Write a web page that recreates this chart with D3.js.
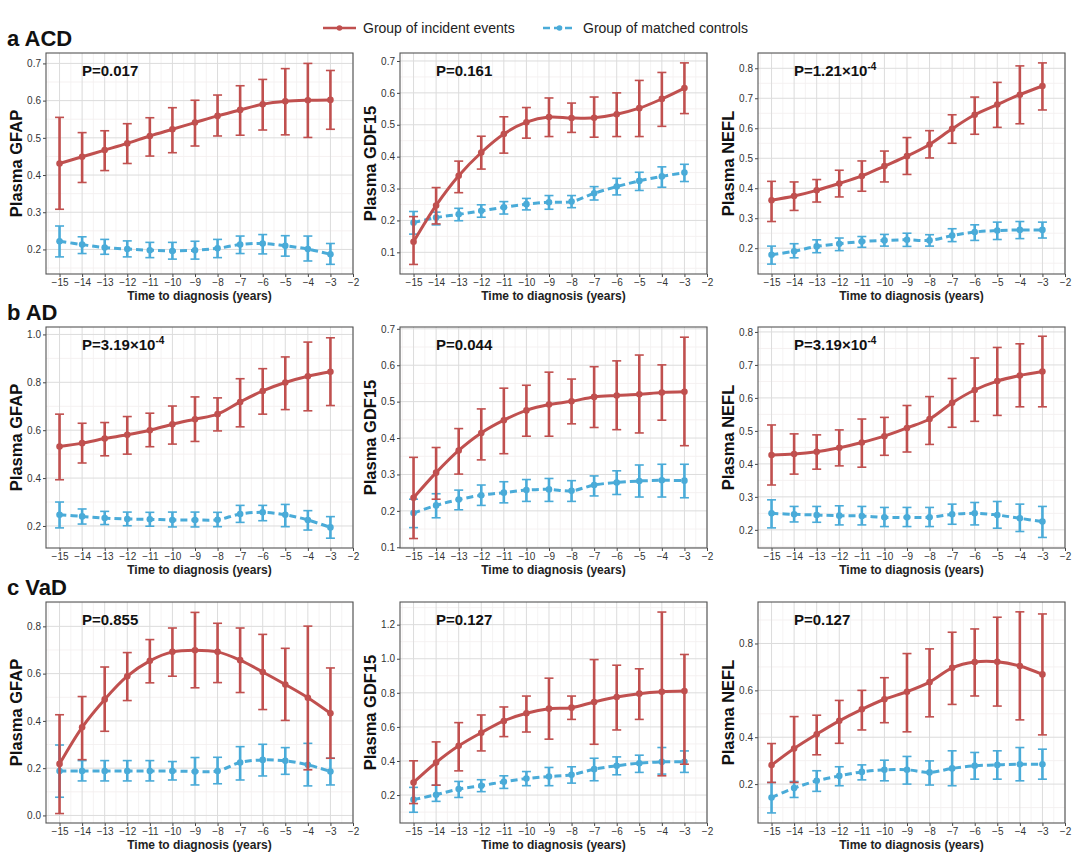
<!DOCTYPE html>
<html>
<head>
<meta charset="utf-8">
<script src="https://cdn.jsdelivr.net/npm/d3@7"></script>
<style>
  body { margin: 0; background: #fff; }
  svg { font-family: Arial, "Liberation Sans", sans-serif; }
</style>
</head>
<body>
<svg id="chart" width="1080" height="858"></svg>
<script>
const years = [-15, -14, -13, -12, -11, -10, -9, -8, -7, -6, -5, -4, -3]

// [mean, lower, upper] for each year
const acdGfapCase = [[0.431,0.308,0.555],[0.449,0.380,0.514],[0.467,0.412,0.519],[0.485,0.431,0.538],[0.505,0.451,0.554],[0.523,0.460,0.581],[0.541,0.478,0.601],[0.559,0.505,0.615],[0.575,0.507,0.640],[0.590,0.521,0.657],[0.598,0.508,0.686],[0.601,0.501,0.700],[0.602,0.523,0.681]]
const acdGfapCtrl = [[0.222,0.180,0.263],[0.213,0.189,0.234],[0.205,0.187,0.227],[0.201,0.180,0.223],[0.198,0.178,0.219],[0.196,0.174,0.219],[0.198,0.174,0.222],[0.203,0.178,0.227],[0.213,0.189,0.236],[0.216,0.188,0.240],[0.210,0.182,0.237],[0.201,0.169,0.236],[0.187,0.160,0.216]]
const acdGdfCase = [[0.133,0.062,0.212],[0.247,0.189,0.303],[0.340,0.287,0.386],[0.413,0.361,0.464],[0.471,0.411,0.525],[0.508,0.458,0.554],[0.524,0.463,0.584],[0.521,0.476,0.568],[0.522,0.461,0.587],[0.533,0.463,0.600],[0.552,0.463,0.639],[0.581,0.495,0.664],[0.615,0.535,0.694]]
const acdGdfCtrl = [[0.193,0.157,0.228],[0.209,0.186,0.226],[0.219,0.199,0.238],[0.230,0.210,0.249],[0.241,0.220,0.259],[0.251,0.233,0.269],[0.257,0.235,0.278],[0.259,0.240,0.278],[0.285,0.264,0.306],[0.306,0.280,0.332],[0.324,0.294,0.351],[0.338,0.304,0.368],[0.350,0.322,0.376]]
const acdNeflCase = [[0.360,0.289,0.423],[0.374,0.326,0.421],[0.393,0.354,0.429],[0.416,0.371,0.460],[0.441,0.390,0.491],[0.474,0.421,0.524],[0.507,0.446,0.569],[0.546,0.501,0.592],[0.598,0.550,0.645],[0.645,0.580,0.704],[0.679,0.603,0.753],[0.712,0.615,0.808],[0.741,0.661,0.818]]
const acdNeflCtrl = [[0.178,0.147,0.207],[0.190,0.168,0.215],[0.206,0.185,0.228],[0.215,0.192,0.234],[0.222,0.203,0.239],[0.226,0.207,0.246],[0.228,0.206,0.250],[0.226,0.207,0.245],[0.242,0.222,0.265],[0.254,0.226,0.278],[0.259,0.229,0.287],[0.261,0.232,0.289],[0.261,0.234,0.287]]

const adGfapCase = [[0.532,0.393,0.667],[0.546,0.463,0.629],[0.565,0.493,0.632],[0.581,0.500,0.657],[0.600,0.531,0.671],[0.625,0.542,0.701],[0.646,0.553,0.739],[0.667,0.597,0.735],[0.718,0.614,0.815],[0.764,0.667,0.857],[0.799,0.686,0.906],[0.825,0.681,0.968],[0.844,0.703,0.986]]
const adGfapCtrl = [[0.247,0.192,0.300],[0.240,0.208,0.271],[0.233,0.206,0.261],[0.229,0.201,0.258],[0.228,0.199,0.257],[0.225,0.196,0.258],[0.225,0.196,0.258],[0.226,0.197,0.257],[0.250,0.215,0.286],[0.257,0.222,0.286],[0.247,0.197,0.290],[0.225,0.183,0.264],[0.194,0.149,0.239]]
const adGdfCase = [[0.236,0.124,0.347],[0.305,0.232,0.374],[0.366,0.301,0.426],[0.414,0.340,0.480],[0.449,0.357,0.537],[0.476,0.405,0.545],[0.492,0.405,0.581],[0.501,0.439,0.562],[0.513,0.429,0.596],[0.517,0.423,0.612],[0.520,0.414,0.628],[0.525,0.449,0.601],[0.527,0.379,0.677]]
const adGdfCtrl = [[0.194,0.154,0.232],[0.215,0.181,0.247],[0.231,0.203,0.257],[0.243,0.215,0.271],[0.250,0.222,0.280],[0.257,0.226,0.286],[0.259,0.226,0.289],[0.255,0.226,0.283],[0.271,0.241,0.296],[0.278,0.245,0.310],[0.282,0.238,0.326],[0.284,0.238,0.328],[0.283,0.236,0.328]]
const adNeflCase = [[0.427,0.336,0.518],[0.430,0.369,0.491],[0.437,0.384,0.488],[0.449,0.394,0.503],[0.465,0.390,0.536],[0.484,0.426,0.541],[0.509,0.436,0.577],[0.536,0.459,0.604],[0.585,0.511,0.659],[0.624,0.529,0.721],[0.651,0.547,0.753],[0.668,0.573,0.764],[0.680,0.573,0.787]]
const adNeflCtrl = [[0.250,0.206,0.291],[0.247,0.224,0.271],[0.245,0.223,0.271],[0.243,0.215,0.273],[0.242,0.215,0.271],[0.238,0.210,0.268],[0.238,0.210,0.268],[0.238,0.210,0.268],[0.247,0.217,0.278],[0.250,0.215,0.283],[0.245,0.205,0.286],[0.235,0.195,0.278],[0.225,0.177,0.271]]

const vadGfapCase = [[0.218,0.008,0.426],[0.373,0.236,0.503],[0.491,0.356,0.628],[0.589,0.486,0.689],[0.654,0.561,0.744],[0.692,0.589,0.793],[0.699,0.540,0.859],[0.692,0.562,0.813],[0.657,0.520,0.793],[0.607,0.448,0.766],[0.554,0.402,0.707],[0.498,0.193,0.801],[0.432,0.242,0.624]]
const vadGfapCtrl = [[0.188,0.077,0.298],[0.188,0.146,0.232],[0.188,0.146,0.232],[0.188,0.146,0.232],[0.188,0.146,0.232],[0.188,0.150,0.228],[0.186,0.129,0.245],[0.188,0.134,0.246],[0.224,0.150,0.291],[0.235,0.167,0.301],[0.231,0.174,0.287],[0.214,0.125,0.305],[0.186,0.129,0.242]]
const vadGdfCase = [[0.274,0.150,0.401],[0.391,0.258,0.512],[0.489,0.342,0.625],[0.566,0.459,0.670],[0.635,0.543,0.717],[0.680,0.570,0.781],[0.707,0.528,0.886],[0.713,0.644,0.781],[0.746,0.498,0.995],[0.775,0.582,0.962],[0.795,0.644,0.941],[0.806,0.313,1.274],[0.810,0.381,1.025]]
const vadGdfCtrl = [[0.173,0.099,0.245],[0.202,0.163,0.258],[0.235,0.186,0.280],[0.255,0.220,0.290],[0.278,0.239,0.313],[0.297,0.255,0.338],[0.309,0.255,0.362],[0.319,0.270,0.366],[0.352,0.284,0.416],[0.372,0.319,0.424],[0.387,0.333,0.434],[0.395,0.323,0.479],[0.395,0.333,0.459]]
const vadNeflCase = [[0.281,0.207,0.373],[0.352,0.207,0.488],[0.413,0.325,0.494],[0.470,0.374,0.557],[0.519,0.431,0.600],[0.562,0.462,0.654],[0.594,0.423,0.757],[0.635,0.487,0.777],[0.696,0.540,0.848],[0.721,0.576,0.862],[0.722,0.533,0.912],[0.704,0.474,0.935],[0.668,0.410,0.926]]
const vadNeflCtrl = [[0.143,0.077,0.207],[0.183,0.143,0.211],[0.214,0.169,0.257],[0.235,0.193,0.274],[0.252,0.218,0.282],[0.261,0.214,0.302],[0.261,0.200,0.318],[0.250,0.196,0.299],[0.267,0.193,0.342],[0.278,0.221,0.335],[0.282,0.221,0.342],[0.285,0.214,0.356],[0.285,0.221,0.349]]

const rowTitles = ['a ACD', 'b AD', 'c VaD']
const markers = ['GFAP', 'GDF15', 'NEFL']
const pLabels = [
  ['0.017', '0.161', ['1.21×10', '-4']],
  [['3.19×10', '-4'], '0.044', ['3.19×10', '-4']],
  ['0.855', '0.127', '0.127'],
]
const caseData = [[acdGfapCase, acdGdfCase, acdNeflCase], [adGfapCase, adGdfCase, adNeflCase], [vadGfapCase, vadGdfCase, vadNeflCase]]
const ctrlData = [[acdGfapCtrl, acdGdfCtrl, acdNeflCtrl], [adGfapCtrl, adGdfCtrl, adNeflCtrl], [vadGfapCtrl, vadGdfCtrl, vadNeflCtrl]]
const yTickValues = [
  [[0.2,0.3,0.4,0.5,0.6,0.7], [0.1,0.2,0.3,0.4,0.5,0.6,0.7], [0.2,0.3,0.4,0.5,0.6,0.7,0.8]],
  [[0.2,0.4,0.6,0.8,1.0], [0.1,0.2,0.3,0.4,0.5,0.6,0.7], [0.2,0.3,0.4,0.5,0.6,0.7,0.8]],
  [[0.0,0.2,0.4,0.6,0.8], [0.2,0.4,0.6,0.8,1.0,1.2], [0.2,0.4,0.6,0.8]],
]
const yDomains = [
  [[0.134, 0.728], [0.032, 0.725], [0.114, 0.851]],
  [[0.108, 1.031], [0.098, 0.705], [0.145, 0.815]],
  [[-0.032, 0.903], [0.036, 1.333], [0.034, 0.977]],
]
const xTicks = [-15, -14, -13, -12, -11, -10, -9, -8, -7, -6, -5, -4, -3, -2]
const legendLabels = ['Group of incident events', 'Group of matched controls']

const red = '#c0504f'
const blue = '#4aabd8'

const colLeft = [46, 400, 758]
const rowTop = [53, 327, 602]
const pw = 307, ph = 221

const svg = d3.select('#chart')

// legend
const legend = svg.append('g')
;[[red, null, 323], [blue, '7,4', 543]].forEach(([c, dash, x0], i) => {
  legend.append('line').attr('x1', x0).attr('x2', x0 + 33).attr('y1', 28).attr('y2', 28)
    .attr('stroke', c).attr('stroke-width', 2.5).attr('stroke-dasharray', dash)
  legend.append('circle').attr('cx', x0 + 16.5).attr('cy', 28).attr('r', 2.8).attr('fill', c)
  legend.append('text').attr('x', x0 + 40).attr('y', 33).attr('font-size', 14).attr('fill', '#222')
    .text(legendLabels[i])
})

rowTitles.forEach((t, r) => {
  svg.append('text').attr('x', 7).attr('y', rowTop[r] - 7)
    .attr('font-size', 22).attr('font-weight', 'bold').attr('fill', '#111').text(t)
})

for (let r = 0; r < 3; r++) {
  for (let c = 0; c < 3; c++) {
    const g = svg.append('g').attr('transform', `translate(${colLeft[c]},${rowTop[r]})`)
    const x = d3.scaleLinear().domain([-15.6, -2]).range([0, pw])
    const y = d3.scaleLinear().domain(yDomains[r][c]).range([ph, 0])
    const yt = yTickValues[r][c]
    const step = yt[1] - yt[0]

    // minor grid
    const minorY = yt.map(v => v + step / 2).concat([yt[0] - step / 2]).filter(v => v > y.domain()[0] && v < y.domain()[1])
    g.selectAll('.minY').data(minorY).enter().append('line')
      .attr('x1', 0).attr('x2', pw).attr('y1', d => y(d)).attr('y2', d => y(d))
      .attr('stroke', '#f2eeee').attr('stroke-width', 0.8)
    const minorX = xTicks.map(v => v - 0.5)
    g.selectAll('.minX').data(minorX).enter().append('line')
      .attr('y1', 0).attr('y2', ph).attr('x1', d => x(d)).attr('x2', d => x(d))
      .attr('stroke', '#f3f0f0').attr('stroke-width', 0.8)
    // major grid
    g.selectAll('.gy').data(yt).enter().append('line')
      .attr('x1', 0).attr('x2', pw).attr('y1', d => y(d)).attr('y2', d => y(d))
      .attr('stroke', '#dcdcdc').attr('stroke-width', 1)
    g.selectAll('.gx').data(xTicks).enter().append('line')
      .attr('y1', 0).attr('y2', ph).attr('x1', d => x(d)).attr('x2', d => x(d))
      .attr('stroke', '#dcdcdc').attr('stroke-width', 1)

    // axes
    const xa = g.append('g').attr('transform', `translate(0,${ph})`)
      .call(d3.axisBottom(x).tickValues(xTicks).tickSize(3).tickPadding(2))
    const ya = g.append('g')
      .call(d3.axisLeft(y).tickValues(yt).tickFormat(d3.format('.1f')).tickSize(3).tickPadding(2))
    ;[xa, ya].forEach(a => {
      a.select('.domain').remove()
      a.selectAll('.tick line').attr('stroke', '#444')
      a.selectAll('.tick text').attr('font-size', 10).attr('fill', '#333')
        .attr('font-family', 'Arial, "Liberation Sans", sans-serif')
    })

    g.append('rect').attr('width', pw).attr('height', ph)
      .attr('fill', 'none').attr('stroke', '#555').attr('stroke-width', 1.1)

    g.append('text').attr('x', pw / 2).attr('y', ph + 26).attr('text-anchor', 'middle')
      .attr('font-size', 12).attr('font-weight', 'bold').attr('fill', '#222')
      .text('Time to diagnosis (years)')
    g.append('text').attr('transform', `translate(-24,${ph / 2}) rotate(-90)`)
      .attr('text-anchor', 'middle').attr('font-size', 16.5).attr('font-weight', 'bold').attr('fill', '#111')
      .text('Plasma ' + markers[c])

    // P value
    const pt = g.append('text').attr('x', 36).attr('y', 23)
      .attr('font-size', 15).attr('font-weight', 'bold').attr('fill', '#111')
    const pl = pLabels[r][c]
    if (Array.isArray(pl)) {
      pt.append('tspan').text('P=' + pl[0])
      pt.append('tspan').attr('dy', -6).attr('font-size', 10).text(pl[1])
    } else {
      pt.text('P=' + pl)
    }

    const series = [
      { data: ctrlData[r][c], color: blue, dash: '7,4' },
      { data: caseData[r][c], color: red, dash: null },
    ]
    const line = d3.line().x((d, i) => x(years[i])).y(d => y(d[0])).curve(d3.curveCatmullRom)
    series.forEach(s => {
      const sg = g.append('g')
      sg.selectAll('.eb').data(s.data).enter().append('line')
        .attr('x1', (d, i) => x(years[i])).attr('x2', (d, i) => x(years[i]))
        .attr('y1', d => y(d[1])).attr('y2', d => y(d[2]))
        .attr('stroke', s.color).attr('stroke-width', 2.6)
      ;[1, 2].forEach(k => {
        sg.selectAll('.cap' + k).data(s.data).enter().append('line')
          .attr('x1', (d, i) => x(years[i]) - 4.5).attr('x2', (d, i) => x(years[i]) + 4.5)
          .attr('y1', d => y(d[k])).attr('y2', d => y(d[k]))
          .attr('stroke', s.color).attr('stroke-width', 1.6)
      })
      sg.append('path').datum(s.data).attr('d', line)
        .attr('fill', 'none').attr('stroke', s.color).attr('stroke-width', 3)
        .attr('stroke-dasharray', s.dash)
      sg.selectAll('circle').data(s.data).enter().append('circle')
        .attr('cx', (d, i) => x(years[i])).attr('cy', d => y(d[0])).attr('r', 3.3)
        .attr('fill', s.color)
    })
  }
}
</script>
</body>
</html>
